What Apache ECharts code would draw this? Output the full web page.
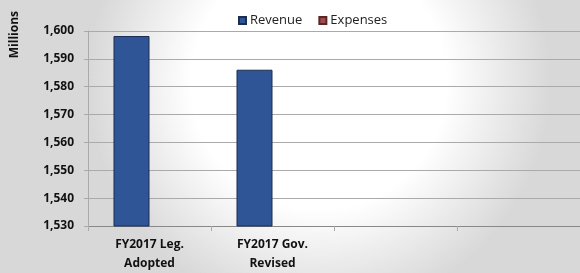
<!DOCTYPE html>
<html><head><meta charset="utf-8">
<script src="https://cdn.jsdelivr.net/npm/echarts@6/dist/echarts.min.js"></script>
<style>html,body{margin:0;padding:0;}#c{width:580px;height:273px;}</style>
</head><body><div id="c"></div>
<script>
const categories = ["FY2017 Leg.\nAdopted", "FY2017 Gov.\nRevised", "", ""];
const revenue = [1598.2, 1586.1, null, null];
const expenses = [null, null, null, null];
const yTicks = [1530, 1540, 1550, 1560, 1570, 1580, 1590, 1600];
const yTitle = 'Millions';

const chart = echarts.init(document.getElementById('c'));
const font = '"Open Sans", "Liberation Sans", sans-serif';
chart.setOption({
  animation: false,
  backgroundColor: {
    type: 'radial', x: 0.55, y: 0.3, r: 0.85,
    colorStops: [
      {offset: 0, color: '#ffffff'},
      {offset: 0.55, color: '#ffffff'},
      {offset: 1, color: '#d8d8d8'}
    ]
  },
  graphic: [{
    type: 'text', left: 9, top: 11, rotation: Math.PI / 2,
    style: {text: yTitle, font: 'bold 12px ' + font, fill: '#111'}
  }],
  legend: {
    top: 9, left: 233, itemWidth: 7, itemHeight: 7, itemGap: 16,
    icon: 'rect',
    textStyle: {fontFamily: font, fontSize: 13, color: '#222', padding: [0,0,0,-1]},
    data: ['Revenue', 'Expenses']
  },
  grid: {left: 88, right: -2, top: 31, bottom: 46, containLabel: false},
  xAxis: {
    type: 'category', data: categories,
    axisLine: {lineStyle: {color: '#888', width: 1}},
    axisTick: {show: true, length: 5, lineStyle: {color: '#aaa'}},
    axisLabel: {fontFamily: font, fontWeight: 'bold', fontSize: 12, color: '#111', lineHeight: 19, margin: 9, interval: 0}
  },
  yAxis: {
    type: 'value', min: yTicks[0], max: yTicks[yTicks.length-1], interval: 10,
    axisLine: {show: true, lineStyle: {color: '#aaa'}},
    axisTick: {show: true, length: 4, lineStyle: {color: '#aaa'}},
    splitLine: {lineStyle: {color: '#aaa', width: 1}},
    axisLabel: {fontFamily: font, fontWeight: 'bold', fontSize: 12, color: '#111', margin: 14,
      formatter: v => v.toLocaleString('en-US')}
  },
  series: [
    {name: 'Revenue', type: 'bar', data: revenue, barWidth: 36, barGap: '0%',
      itemStyle: {color: '#2F5597', borderColor: '#1B2D52', borderWidth: 1}},
    {name: 'Expenses', type: 'bar', data: expenses, barWidth: 36,
      itemStyle: {color: '#A04C4C', borderColor: '#5a2525', borderWidth: 1}}
  ]
});
</script></body></html>
